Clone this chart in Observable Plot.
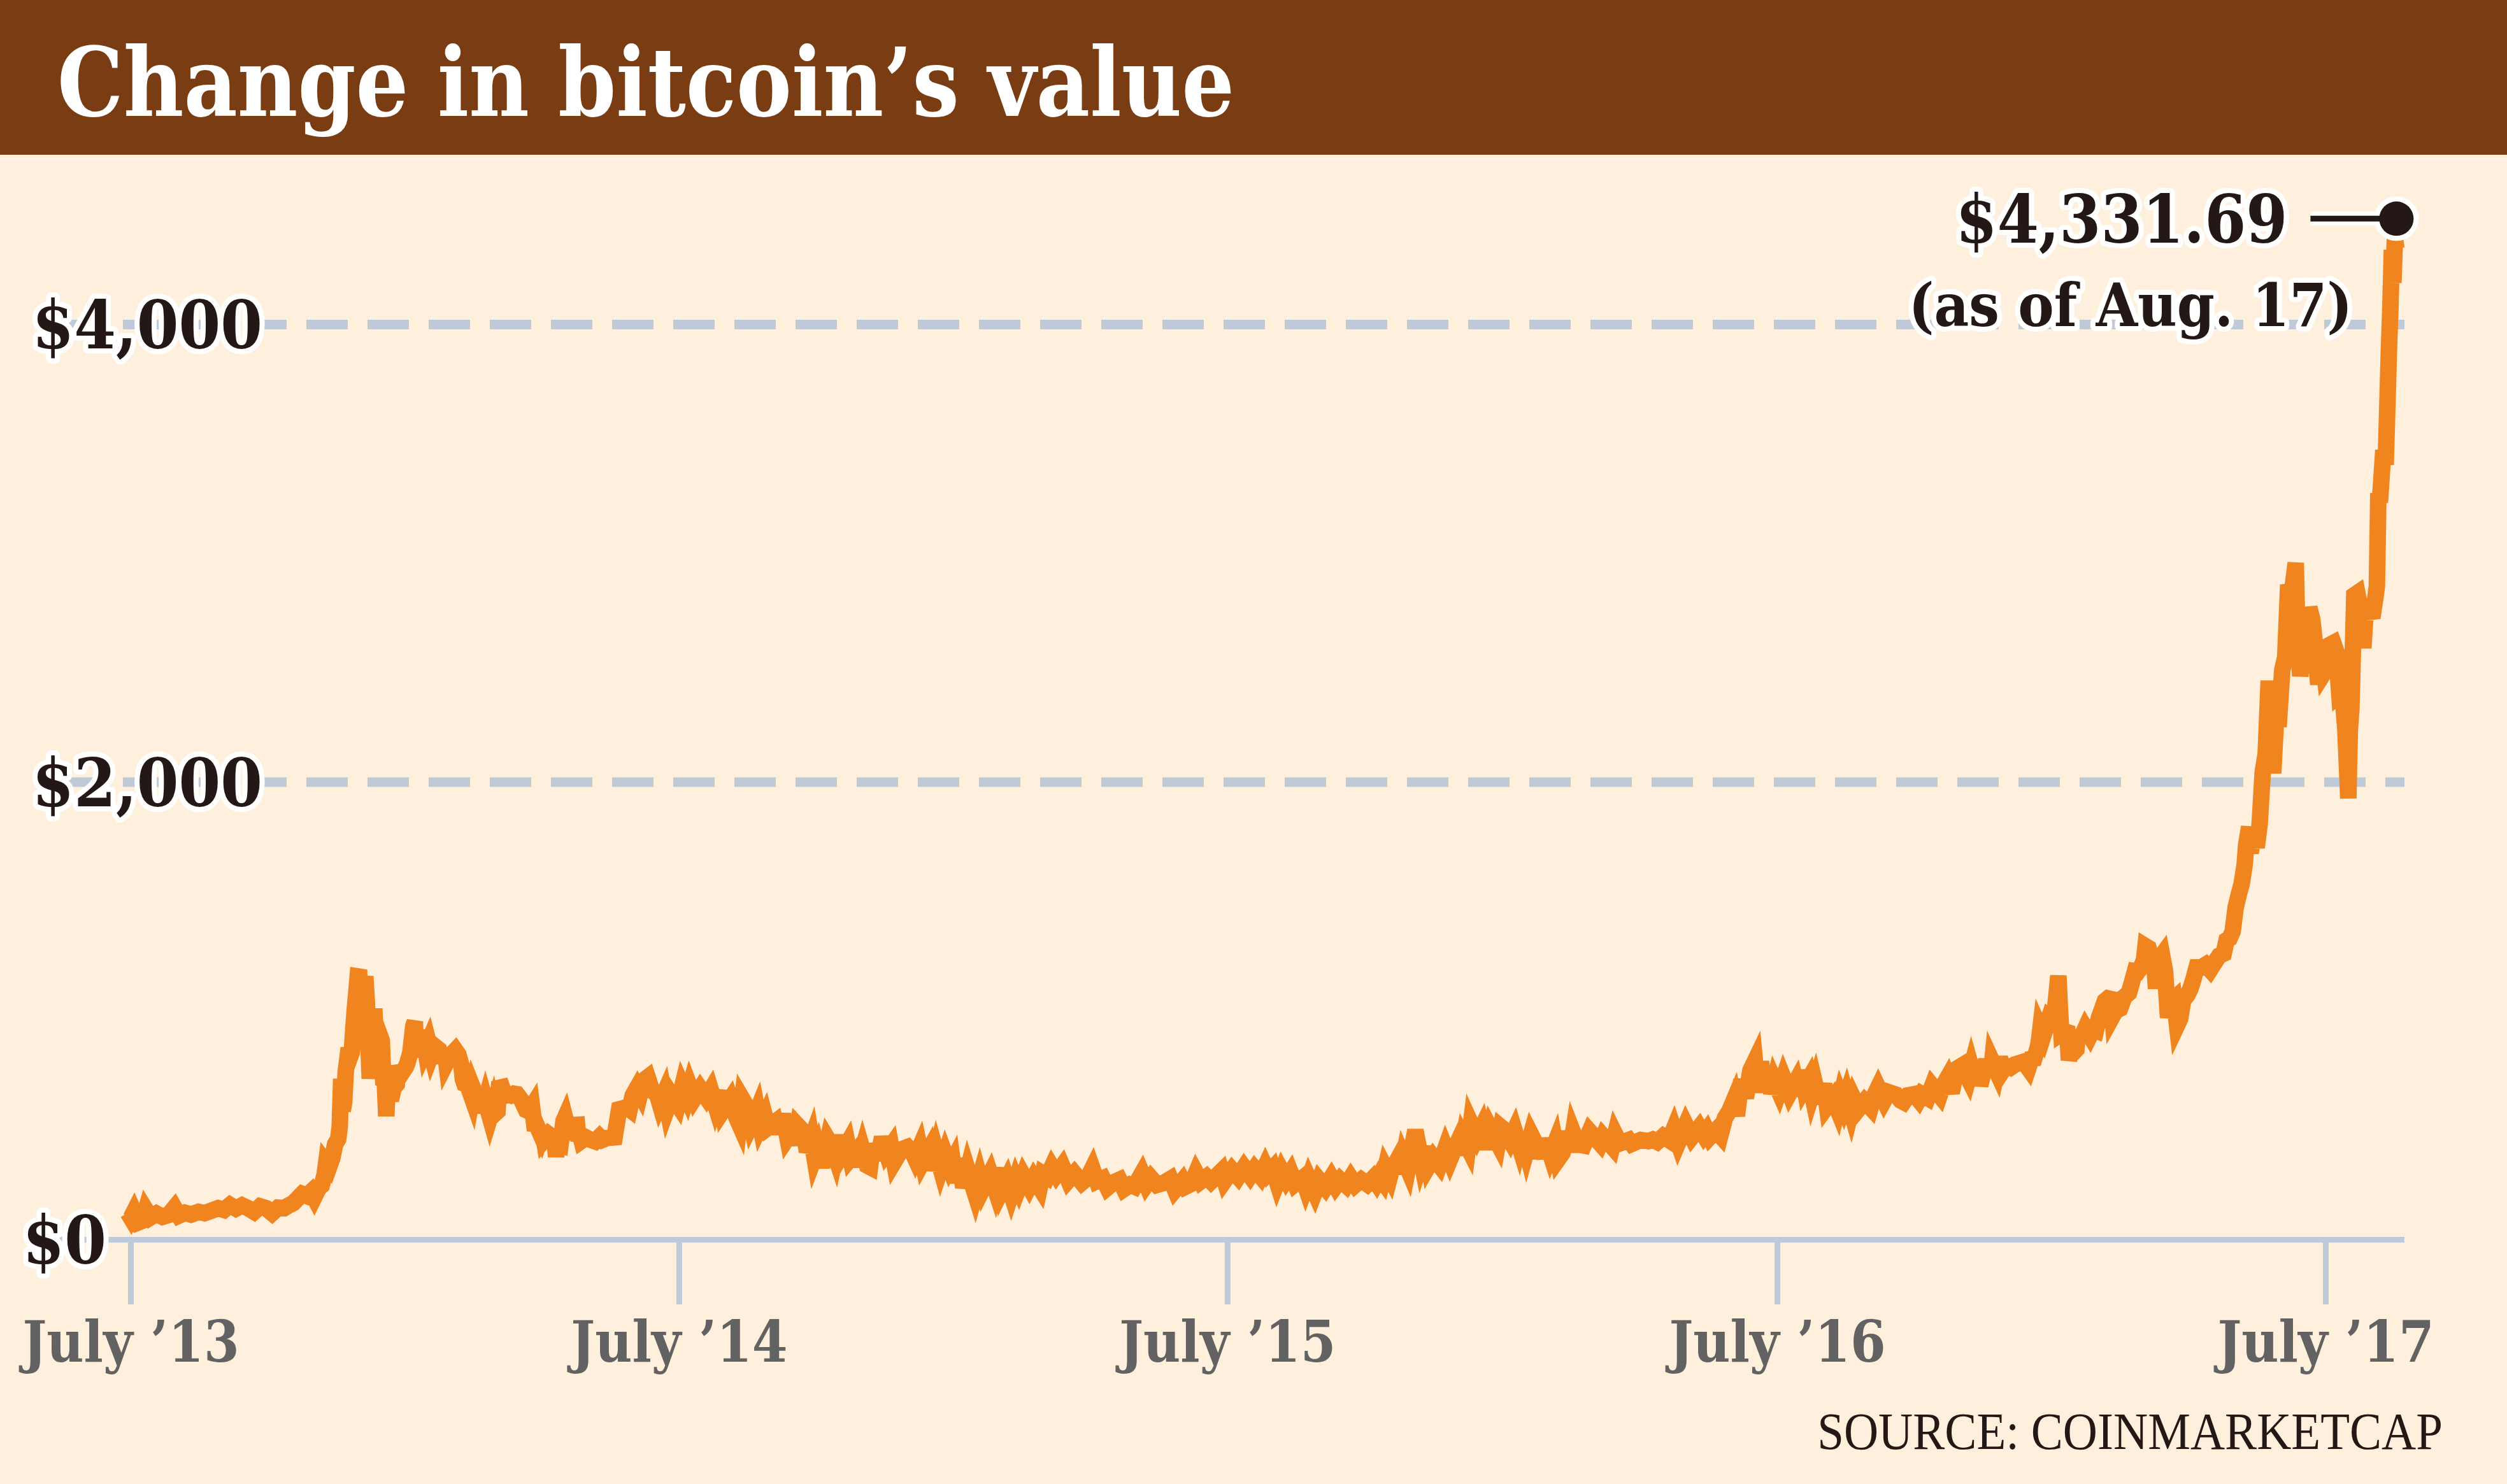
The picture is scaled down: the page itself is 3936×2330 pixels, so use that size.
<!DOCTYPE html>
<html>
<head>
<meta charset="utf-8">
<script src="https://cdn.jsdelivr.net/npm/d3@7"></script>
<script src="https://cdn.jsdelivr.net/npm/@observablehq/plot@0.6"></script>
<style>
  html, body { margin: 0; padding: 0; background: #fef0dd; }
  #wrap { width: 3936px; height: 2330px; background: #fef0dd; overflow: hidden; }
  #title {
    height: 243px; box-sizing: border-box; background: #7a3c12; color: #fff;
    font-family: "DejaVu Serif Condensed", "DejaVu Serif", serif; font-stretch: condensed;
    font-weight: bold; font-size: 150px; line-height: 150px; padding: 54px 0 0 90px; white-space: nowrap;
  }
  #title span { display: inline-block; transform: scaleX(0.965); transform-origin: left center; }
  #chart svg { display: block; }
  #chart svg text { font-stretch: condensed; }
  #caption {
    height: 123px; box-sizing: border-box; text-align: right; padding-right: 101px;
    font-family: "Liberation Serif", "Times New Roman", serif; font-size: 82px; line-height: 82px; color: #231815;
    white-space: nowrap;
  }
  #caption span { display: inline-block; transform: scaleX(0.915); transform-origin: right center; }
</style>
</head>
<body>
<div id="wrap">
  <div id="title"><span>Change in bitcoin’s value</span></div>
  <div id="chart"></div>
  <div id="caption"><span>SOURCE: COINMARKETCAP</span></div>
</div>
<script>
// ---- tick / label data ----
const tickDates = ["2013-07-01", "2014-07-01", "2015-07-01", "2016-07-01", "2017-07-01"];
const tickLabels = ["July ’13", "July ’14", "July ’15", "July ’16", "July ’17"];
const yTicks = [2000, 4000];
const yLabels = ["$2,000", "$4,000"];
const zeroTick = [0];
const zeroLabel = "$0";
const gridValues = [2000, 4000];
const lastDate = "2017-08-17";
const lastValue = 4331.69;
const annotationLines = ["$4,331.69", "(as of Aug. 17)"];
const connectorStart = "2017-06-21";

// ---- price series (USD) ----
const btc2013 = [["2013-06-29",118],["2013-07-01",96],["2013-07-03",122],["2013-07-06",76],["2013-07-09",84],["2013-07-11",130],["2013-07-14",98],["2013-07-18",114],["2013-07-22",100],["2013-07-26",108],["2013-07-30",140],["2013-08-02",106],["2013-08-06",118],["2013-08-10",110],["2013-08-15",122],["2013-08-19",116],["2013-08-24",128],["2013-08-28",138],["2013-09-01",130],["2013-09-05",152],["2013-09-09",136],["2013-09-13",150],["2013-09-17",138],["2013-09-21",122],["2013-09-25",146],["2013-09-29",138],["2013-10-03",116],["2013-10-07",140],["2013-10-11",138],["2013-10-14",150],["2013-10-17",160],["2013-10-20",180],["2013-10-23",200],["2013-10-26",192],["2013-10-29",210],["2013-10-31",185],["2013-11-03",225],["2013-11-05",237],["2013-11-07",286],["2013-11-08",336],["2013-11-10",319],["2013-11-12",356],["2013-11-14",418],["2013-11-16",440],["2013-11-17",492],["2013-11-18",703],["2013-11-19",563],["2013-11-20",603],["2013-11-21",734],["2013-11-23",838],["2013-11-24",800],["2013-11-25",818],["2013-11-26",914],["2013-11-27",1004],["2013-11-28",1076],["2013-11-29",1151],["2013-11-30",1150],["2013-12-01",970],["2013-12-02",1044],["2013-12-04",1151],["2013-12-05",1045],["2013-12-06",870],["2013-12-07",704],["2013-12-08",796],["2013-12-09",904],["2013-12-10",1010],["2013-12-11",880],["2013-12-13",906],["2013-12-15",870],["2013-12-16",695],["2013-12-17",690],["2013-12-18",540],["2013-12-19",690],["2013-12-21",610],["2013-12-23",665],["2013-12-25",680],["2013-12-26",760],["2013-12-28",725],["2013-12-31",755]];

const btc2014 = [["2014-01-01",771],["2014-01-03",818],["2014-01-05",934],["2014-01-06",953],["2014-01-07",802],["2014-01-09",846],["2014-01-11",914],["2014-01-13",834],["2014-01-15",864],["2014-01-17",812],["2014-01-19",847],["2014-01-22",831],["2014-01-24",775],["2014-01-26",827],["2014-01-27",774],["2014-01-29",800],["2014-02-02",828],["2014-02-04",809],["2014-02-06",762],["2014-02-07",701],["2014-02-08",682],["2014-02-10",677],["2014-02-13",621],["2014-02-14",658],["2014-02-16",625],["2014-02-19",617],["2014-02-20",557],["2014-02-22",605],["2014-02-25",535],["2014-02-27",578],["2014-02-28",549],["2014-03-02",561],["2014-03-03",664],["2014-03-05",667],["2014-03-07",630],["2014-03-09",636],["2014-03-11",631],["2014-03-13",638],["2014-03-15",636],["2014-03-18",610],["2014-03-21",567],["2014-03-23",561],["2014-03-25",582],["2014-03-27",478],["2014-03-28",502],["2014-03-31",457],["2014-04-01",478],["2014-04-02",437],["2014-04-05",461],["2014-04-09",441],["2014-04-10",363],["2014-04-11",421],["2014-04-13",416],["2014-04-15",519],["2014-04-16",534],["2014-04-18",483],["2014-04-20",500],["2014-04-24",502],["2014-04-25",432],["2014-04-26",459],["2014-04-27",433],["2014-04-30",447],["2014-05-03",437],["2014-05-06",430],["2014-05-09",450],["2014-05-11",437],["2014-05-14",445],["2014-05-17",447],["2014-05-19",448],["2014-05-20",490],["2014-05-22",570],["2014-05-25",575],["2014-05-27",580],["2014-05-29",570],["2014-05-31",630],
["2014-06-03",665],["2014-06-05",640],["2014-06-07",695],["2014-06-10",710],["2014-06-13",650],["2014-06-16",640],["2014-06-18",595],["2014-06-21",640],["2014-06-23",575],["2014-06-26",630],["2014-06-30",590],["2014-07-03",670],["2014-07-06",625],["2014-07-08",670],["2014-07-11",618],["2014-07-15",660],["2014-07-19",622],["2014-07-22",655],["2014-07-25",590],["2014-07-28",650],["2014-07-30",565],["2014-08-04",615],["2014-08-08",535],["2014-08-10",505],["2014-08-12",615],["2014-08-16",570],["2014-08-18",505],["2014-08-20",532],["2014-08-22",565],["2014-08-24",498],["2014-08-27",540],["2014-08-29",490],["2014-09-03",515],["2014-09-05",465],["2014-09-08",548],["2014-09-11",445],["2014-09-14",475],["2014-09-16",415],["2014-09-18",498],["2014-09-22",470],["2014-09-24",385],["2014-09-27",440],["2014-09-29",360],["2014-10-01",395],["2014-10-04",318],["2014-10-08",438],["2014-10-11",405],["2014-10-13",365],["2014-10-16",455],["2014-10-18",385],["2014-10-21",420],["2014-10-23",356],["2014-10-26",380],["2014-10-28",322],["2014-10-31",393],["2014-11-03",325],["2014-11-05",318],["2014-11-07",420],["2014-11-10",350],["2014-11-13",447],["2014-11-16",382],["2014-11-19",410],["2014-11-21",340],["2014-11-26",395],["2014-11-30",405],["2014-12-03",385],["2014-12-05",356],["2014-12-08",402],["2014-12-10",340],["2014-12-14",388],["2014-12-16",305],["2014-12-19",383],["2014-12-22",312],["2014-12-25",372],["2014-12-28",318],["2014-12-30",343]];

const btc2015 = [["2015-01-01",250],["2015-01-04",355],["2015-01-06",228],["2015-01-09",305],["2015-01-14",200],["2015-01-17",270],["2015-01-19",222],["2015-01-24",288],["2015-01-27",228],["2015-01-30",312],["2015-02-01",222],["2015-02-04",262],["2015-02-07",200],["2015-02-10",260],["2015-02-12",228],["2015-02-15",280],["2015-02-19",232],["2015-02-22",270],["2015-02-26",228],["2015-02-28",288],["2015-03-03",275],["2015-03-06",318],["2015-03-09",285],["2015-03-13",322],["2015-03-17",260],["2015-03-21",290],["2015-03-26",250],["2015-03-30",272],["2015-04-02",312],["2015-04-05",256],["2015-04-09",268],["2015-04-12",228],["2015-04-16",250],["2015-04-20",262],["2015-04-23",222],["2015-04-27",240],["2015-04-30",232],["2015-05-05",290],["2015-05-08",242],["2015-05-11",270],["2015-05-15",240],["2015-05-20",250],["2015-05-24",266],["2015-05-27",218],["2015-06-01",258],["2015-06-03",232],["2015-06-07",245],["2015-06-10",292],["2015-06-13",255],["2015-06-17",275],["2015-06-20",255],["2015-06-27",300],["2015-06-29",258],["2015-07-04",305],["2015-07-08",275],["2015-07-12",316],["2015-07-16",280],["2015-07-19",310],["2015-07-23",278],["2015-07-26",320],["2015-07-28",291],["2015-07-31",312],["2015-08-03",250],["2015-08-06",300],["2015-08-09",263],["2015-08-12",294],["2015-08-15",244],["2015-08-20",270],["2015-08-22",231],["2015-08-24",267],["2015-08-28",208],["2015-08-31",260],["2015-09-04",228],["2015-09-08",271],["2015-09-11",235],["2015-09-14",262],["2015-09-18",238],["2015-09-21",270],["2015-09-24",240],["2015-09-28",262],["2015-10-02",243],["2015-10-06",270],["2015-10-08",250],["2015-10-10",276],["2015-10-12",258],["2015-10-14",313],["2015-10-17",275],["2015-10-18",300],["2015-10-22",348],["2015-10-24",290],["2015-10-26",357],["2015-10-29",310],["2015-11-03",478],["2015-11-07",345],["2015-11-10",405],["2015-11-12",326],["2015-11-15",360],["2015-11-19",326],["2015-11-23",400],["2015-11-26",350],["2015-11-28",382],["2015-12-01",424],["2015-12-03",372],["2015-12-05",442],["2015-12-08",403],["2015-12-10",507],["2015-12-14",449],["2015-12-17",489],["2015-12-20",398],["2015-12-23",484],["2015-12-28",421],["2015-12-30",492]];

const btc2016 = [["2016-01-01",481],["2016-01-05",435],["2016-01-08",478],["2016-01-11",414],["2016-01-13",466],["2016-01-16",389],["2016-01-19",460],["2016-01-21",434],["2016-01-23",356],["2016-01-25",441],["2016-01-28",356],["2016-01-29",436],["2016-02-01",373],["2016-02-04",423],["2016-02-06",352],["2016-02-09",380],["2016-02-12",472],["2016-02-14",384],["2016-02-16",468],["2016-02-19",417],["2016-02-23",412],["2016-02-27",473],["2016-03-05",421],["2016-03-07",452],["2016-03-13",407],["2016-03-15",461],["2016-03-18",421],["2016-03-24",436],["2016-03-26",419],["2016-04-01",436],["2016-04-06",431],["2016-04-09",438],["2016-04-12",428],["2016-04-16",452],["2016-04-20",435],["2016-04-23",484],["2016-04-26",425],["2016-05-01",502],["2016-05-05",449],["2016-05-10",491],["2016-05-13",458],["2016-05-15",477],["2016-05-17",449],["2016-05-21",477],["2016-05-24",455],["2016-05-27",531],["2016-05-30",563],["2016-06-02",610],["2016-06-04",542],["2016-06-07",700],["2016-06-10",620],["2016-06-13",740],["2016-06-16",781],["2016-06-18",644],["2016-06-20",779],["2016-06-22",655],["2016-06-25",752],["2016-06-27",639],["2016-06-29",693],["2016-07-02",648],["2016-07-05",707],["2016-07-09",640],["2016-07-13",688],["2016-07-15",630],["2016-07-17",740],["2016-07-19",667],["2016-07-22",702],["2016-07-24",639],["2016-07-26",681],["2016-07-29",597],["2016-08-01",681],["2016-08-03",583],["2016-08-07",619],["2016-08-10",570],["2016-08-12",623],["2016-08-14",588],["2016-08-16",629],["2016-08-19",561],["2016-08-21",613],["2016-08-24",572],["2016-08-28",605],["2016-09-01",577],["2016-09-03",624],["2016-09-06",665],["2016-09-10",609],["2016-09-13",645],["2016-09-18",634],["2016-09-21",609],["2016-09-23",602],["2016-09-26",631],["2016-09-30",636],["2016-10-03",612],["2016-10-05",636],["2016-10-09",620],["2016-10-12",672],["2016-10-17",631],["2016-10-19",670],["2016-10-22",705],["2016-10-25",642],["2016-10-27",710],["2016-10-29",750],["2016-11-01",762],["2016-11-04",718],["2016-11-05",705],["2016-11-07",754],["2016-11-09",707],["2016-11-10",764],["2016-11-12",729],["2016-11-13",674],["2016-11-17",786],["2016-11-20",712],["2016-11-21",778],["2016-11-24",735],["2016-11-26",797],["2016-11-28",740],["2016-11-30",760],["2016-12-03",752],["2016-12-06",766],["2016-12-09",772],["2016-12-12",778],["2016-12-15",750],["2016-12-17",790],["2016-12-19",792],["2016-12-21",834],["2016-12-22",865],["2016-12-23",921],["2016-12-25",892],["2016-12-27",933],["2016-12-29",973],["2016-12-31",963]];

const btc2017 = [["2017-01-02",1021],["2017-01-04",1154],["2017-01-05",1013],["2017-01-06",902],["2017-01-08",911],["2017-01-10",907],["2017-01-11",785],["2017-01-12",812],["2017-01-14",818],["2017-01-16",832],["2017-01-17",907],["2017-01-18",886],["2017-01-20",896],["2017-01-22",925],["2017-01-25",892],["2017-01-27",919],["2017-01-29",914],["2017-01-31",970],["2017-02-02",1007],["2017-02-04",1044],["2017-02-06",1055],["2017-02-08",1052],["2017-02-09",976],["2017-02-11",1000],["2017-02-14",1010],["2017-02-17",1062],["2017-02-20",1079],["2017-02-22",1126],["2017-02-24",1174],["2017-02-26",1172],["2017-02-28",1190],["2017-03-02",1223],["2017-03-03",1283],["2017-03-05",1275],["2017-03-07",1233],["2017-03-09",1192],["2017-03-10",1098],["2017-03-12",1226],["2017-03-14",1244],["2017-03-16",1173],["2017-03-18",971],["2017-03-20",1040],["2017-03-22",1052],["2017-03-24",937],["2017-03-26",965],["2017-03-28",1045],["2017-03-31",1071],["2017-04-02",1099],["2017-04-04",1141],["2017-04-06",1190],["2017-04-09",1190],["2017-04-12",1202],["2017-04-15",1180],["2017-04-18",1211],["2017-04-21",1241],["2017-04-24",1250],["2017-04-26",1309],["2017-04-28",1317],["2017-04-30",1347],["2017-05-02",1452],["2017-05-04",1507],["2017-05-06",1555],["2017-05-08",1639],["2017-05-09",1726],["2017-05-11",1804],["2017-05-12",1691],["2017-05-14",1780],["2017-05-16",1714],["2017-05-18",1818],["2017-05-20",2041],["2017-05-22",2124],["2017-05-24",2443],["2017-05-25",2305],["2017-05-27",2039],["2017-05-29",2290],["2017-05-31",2286],["2017-06-02",2488],["2017-06-04",2547],["2017-06-06",2863],["2017-06-08",2805],["2017-06-11",2958],["2017-06-12",2659],["2017-06-14",2464],["2017-06-15",2518],["2017-06-17",2655],["2017-06-18",2548],["2017-06-20",2763],["2017-06-22",2711],["2017-06-24",2589],["2017-06-26",2427],["2017-06-28",2585],["2017-06-30",2480],["2017-07-02",2501],["2017-07-04",2601],["2017-07-06",2608],["2017-07-08",2571],["2017-07-10",2385],["2017-07-12",2397],["2017-07-14",2233],["2017-07-16",1929],["2017-07-17",2228],["2017-07-18",2318],["2017-07-20",2817],["2017-07-22",2826],["2017-07-24",2757],["2017-07-26",2586],["2017-07-28",2796],["2017-07-30",2757],["2017-08-01",2718],["2017-08-03",2807],["2017-08-04",2855],["2017-08-05",3263],["2017-08-06",3222],["2017-08-08",3419],["2017-08-10",3420],["2017-08-11",3650],["2017-08-12",3885],["2017-08-13",4074],["2017-08-14",4326],["2017-08-15",4182],["2017-08-16",4376],["2017-08-17",4331.69]];

// ---- build ----
const data = [...btc2013, ...btc2014, ...btc2015, ...btc2016, ...btc2017]
  .map(([d, v]) => ({date: new Date(d), value: v}));
const ticks = tickDates.map(d => new Date(d));
const labelByTime = new Map(ticks.map((d, i) => [+d, tickLabels[i]]));
const last = [{date: new Date(lastDate), value: lastValue}];
const F = "'DejaVu Serif Condensed', 'DejaVu Serif', serif";
const dark = "#231815";
const grid = "#bfcad9";
const dotDy = -47;
const halo = {fill: dark, stroke: "white", strokeWidth: 16, strokeLinejoin: "round", fontFamily: F, fontWeight: "bold"};

const chart = Plot.plot({
  width: 3936,
  height: 1964,
  marginTop: 266,
  marginBottom: 261,
  marginLeft: 60,
  marginRight: 161,
  x: {type: "utc", domain: [ticks[0], ticks[ticks.length - 1]], range: [205, 3651]},
  y: {domain: [0, 4000], axis: null},
  style: {background: "transparent", overflow: "visible"},
  marks: [
    Plot.ruleY(gridValues, {stroke: grid, strokeWidth: 15, strokeDasharray: "65,31", strokeDashoffset: 59}),
    Plot.ruleY([0], {stroke: grid, strokeWidth: 9}),
    Plot.axisX(ticks, {
      tickSize: 102, tickPadding: 26, stroke: grid, strokeWidth: 9,
      fill: "#626262", fontSize: 89, fontFamily: F, fontWeight: "bold",
      tickFormat: d => labelByTime.get(+d)
    }),
    Plot.line(data, {
      x: "date", y: "value", stroke: "#f0841f", strokeWidth: 26,
      strokeLinejoin: "miter", strokeLinecap: "butt", strokeMiterlimit: 4
    }),
    Plot.text(yTicks, {
      y: d => d, text: (d, i) => yLabels[i], frameAnchor: "left", textAnchor: "start",
      dx: -10, dy: 4, fontSize: 105, ...halo
    }),
    Plot.text(zeroTick, {
      y: d => d, text: () => zeroLabel, frameAnchor: "left", textAnchor: "start",
      dx: -25, dy: 4, fontSize: 105, ...halo
    }),
    // annotation
    Plot.ruleY(last, {x1: () => new Date(connectorStart), x2: "date", y: "value", dy: dotDy, stroke: "white", strokeWidth: 22}),
    Plot.dot(last, {x: "date", y: "value", dy: dotDy, r: 35, fill: "white"}),
    Plot.ruleY(last, {x1: () => new Date(connectorStart), x2: "date", y: "value", dy: dotDy, stroke: dark, strokeWidth: 9}),
    Plot.dot(last, {x: "date", y: "value", dy: dotDy, r: 27, fill: dark}),
    Plot.text(last, {
      x: "date", y: "value", text: () => annotationLines[0], textAnchor: "end",
      dx: -171, dy: dotDy + 4, fontSize: 104, ...halo
    }),
    Plot.text(last, {
      x: "date", y: "value", text: () => annotationLines[1], textAnchor: "end",
      dx: -69, dy: 92, fontSize: 94, ...halo
    })
  ]
});
document.getElementById("chart").appendChild(chart);
</script>
</body>
</html>
